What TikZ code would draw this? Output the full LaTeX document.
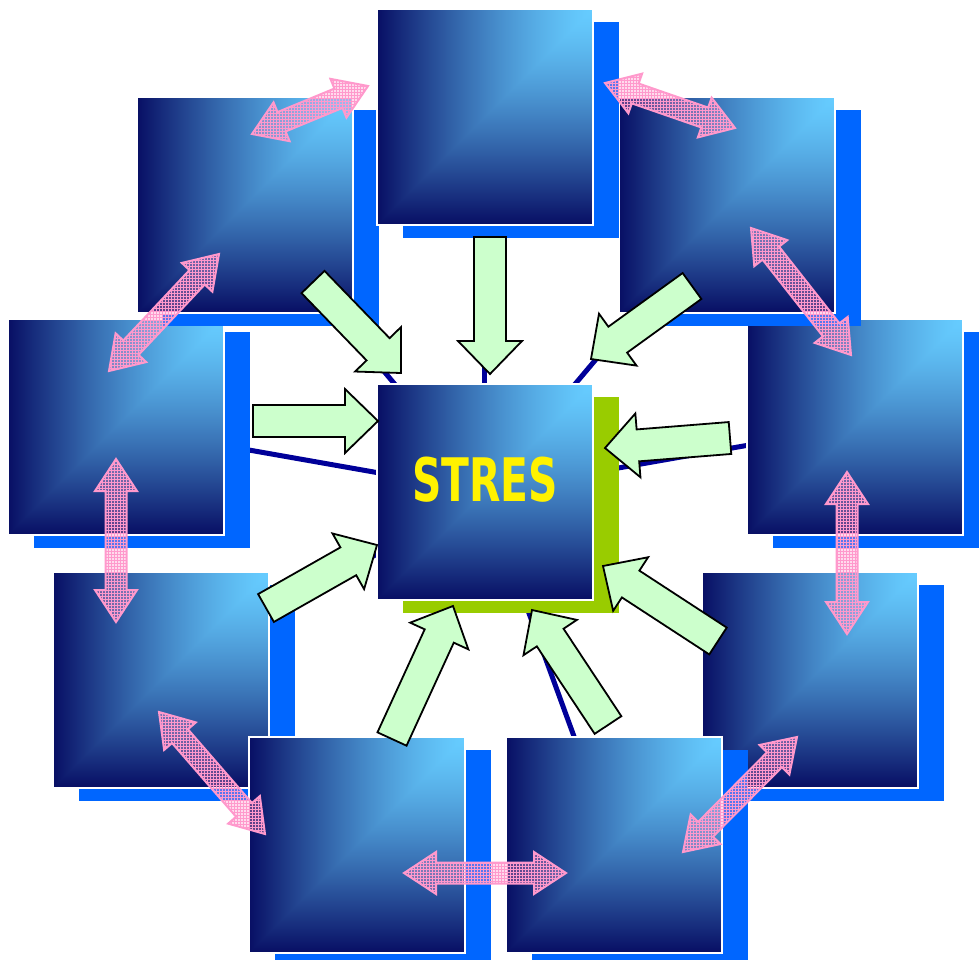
\documentclass[tikz,border=0pt]{standalone}
\usepackage{fontspec}
\newfontfamily\stfont{DejaVu Sans}
\usetikzlibrary{calc,shadows,patterns}
\definecolor{sblue}{RGB}{0,102,255}
\definecolor{sgreen}{RGB}{153,204,0}
\definecolor{lnblue}{RGB}{0,0,153}
\definecolor{garrfill}{RGB}{204,255,204}
\definecolor{pinkc}{RGB}{255,153,204}
\pgfdeclarefunctionalshading{corner}{\pgfpoint{-50bp}{-50bp}}{\pgfpoint{50bp}{50bp}}{}{
25 exch sub exch 25 exch sub 2 copy lt {exch} if pop 50 div
dup 0 lt {pop 0} if dup 1 gt {pop 1} if 1.35 exp
dup -0.37 mul 0.40 add exch dup -0.745 mul 0.80 add exch -0.61 mul 1.0 add}
\pgfdeclarelayer{bg}
\pgfsetlayers{bg,main}
\tikzset{
  box/.style={shade, shading=corner, draw=white, line width=2pt, minimum size=216pt,
    inner sep=0pt, general shadow={fill=#1, shadow xshift=26pt, shadow yshift=-13pt}},
  box/.default=sblue,
  conn/.style={draw=lnblue, line width=5pt},
  garr/.style={draw=black, line width=1.8pt, fill=garrfill, line join=miter},
  parr/.style={draw=pinkc, line width=2pt, line join=miter, fill=pinkc, fill opacity=0.35,
    postaction={pattern=grid, pattern color=pinkc, fill opacity=0.6}},
}
\newcommand\greenblk[2]{%
  \path ($(#2)!33pt!(#1)$) coordinate (hh);
  \draw[garr] ($(#1)!16pt!90:(#2)$) -- ($(hh)!16pt!90:(#2)$) -- ($(hh)!32pt!90:(#2)$) -- (#2)
    -- ($(hh)!32pt!-90:(#2)$) -- ($(hh)!16pt!-90:(#2)$) -- ($(#1)!16pt!-90:(#2)$) -- cycle;}
\newcommand\pinkdbl[2]{%
  \path ($(#1)!32pt!(#2)$) coordinate (ha) ($(#2)!32pt!(#1)$) coordinate (hb);
  \draw[parr] (#1) -- ($(ha)!21pt!90:(#2)$) -- ($(ha)!10.5pt!90:(#2)$) -- ($(hb)!10.5pt!-90:(#1)$)
    -- ($(hb)!21pt!-90:(#1)$) -- (#2) -- ($(hb)!21pt!90:(#1)$) -- ($(hb)!10.5pt!90:(#1)$)
    -- ($(ha)!10.5pt!-90:(#2)$) -- ($(ha)!21pt!-90:(#2)$) -- cycle;}
\begin{document}
\begin{tikzpicture}[x=1pt,y=-1pt]
\useasboundingbox (0,0) rectangle (979,959);
% boxes
\node[box] (R)  at (854.5,426.5) {};
\node[box] (L)  at (115.5,426.5) {};
\node[box] (TL) at (244.5,204.5) {};
\node[box] (TR) at (726.5,204.5) {};
\node[box] (T)  at (484.5,116.5) {};
\node[box] (LL) at (160.5,679.5) {};
\node[box] (LR) at (809.5,679.5) {};
\node[box] (BL) at (356.5,844.5) {};
\node[box] (BR) at (613.5,844.5) {};
\node[box=sgreen] (C) at (484.5,491.5) {};
\node[text=yellow, font=\stfont\bfseries\fontsize{60}{60}\selectfont, inner sep=0pt] (stres)
  at (485,480) {\scalebox{0.68}[1]{STRES}};
% connectors behind
\begin{pgfonlayer}{bg}
\foreach \b in {T,TL,TR,L,R,LL,LR,BL,BR} \draw[conn] (C.center) -- (\b.center);
\end{pgfonlayer}
% green arrows
\coordinate (g1a) at (490,237); \coordinate (g1b) at (490,374);
\coordinate (g2a) at (313,282); \coordinate (g2b) at (401,373);
\coordinate (g3a) at (692,286); \coordinate (g3b) at (591,359);
\coordinate (g4a) at (253,421); \coordinate (g4b) at (378,421);
\coordinate (g5a) at (730,438); \coordinate (g5b) at (605,448);
\coordinate (g6a) at (266,608); \coordinate (g6b) at (377,545);
\coordinate (g7a) at (718,641); \coordinate (g7b) at (603,566);
\coordinate (g8a) at (392,739); \coordinate (g8b) at (453,606);
\coordinate (g9a) at (608,725); \coordinate (g9b) at (532,610);
\foreach \i in {1,...,9} {\greenblk{g\i a}{g\i b}}
% pink double arrows
\coordinate (p1a) at (252,134); \coordinate (p1b) at (368,86);
\coordinate (p2a) at (605,83);  \coordinate (p2b) at (735,128);
\coordinate (p3a) at (219,254); \coordinate (p3b) at (109,371);
\coordinate (p4a) at (751,228); \coordinate (p4b) at (851,355);
\coordinate (p5a) at (116,459); \coordinate (p5b) at (116,622);
\coordinate (p6a) at (847,472); \coordinate (p6b) at (847,634);
\coordinate (p7a) at (159,712); \coordinate (p7b) at (265,834);
\coordinate (p8a) at (797,737); \coordinate (p8b) at (683,852);
\coordinate (p9a) at (404,873); \coordinate (p9b) at (566,873);
\foreach \i in {1,...,9} {\pinkdbl{p\i a}{p\i b}}
\end{tikzpicture}
\end{document}
